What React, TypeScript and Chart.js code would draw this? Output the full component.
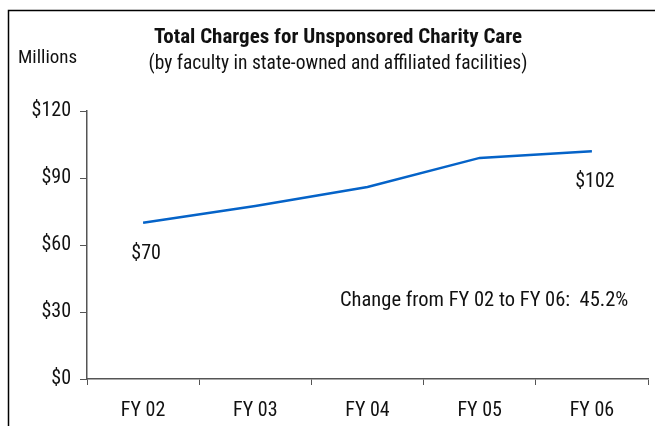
import React, { useEffect, useRef } from "react";
import { Chart, registerables } from "chart.js";

Chart.register(...registerables);

const categories = ["FY 02", "FY 03", "FY 04", "FY 05", "FY 06"];
const charges = [70, 77.5, 86, 99, 102];
const yTicks = [0, 30, 60, 90, 120];
const pointLabels = ["$70", "", "", "", "$102"];
const titleText = "Total Charges for Unsponsored Charity Care";
const subtitleText = "(by faculty in state-owned and affiliated facilities)";
const unitText = "Millions";
const changeText = "Change from FY 02 to FY 06:  45.2%";

const FONT = '"Roboto Condensed", "Liberation Sans Narrow", sans-serif';

export default function App() {
  const ref = useRef<HTMLCanvasElement | null>(null);
  useEffect(() => {
    document.body.style.margin = "0";
    const canvas = ref.current!;
    const textPlugin = {
      id: "texts",
      afterDraw(chart: any) {
        const ctx = chart.ctx;
        ctx.save();
        ctx.strokeStyle = "#000";
        ctx.lineWidth = 1.5;
        ctx.beginPath();
        ctx.moveTo(8.5, 426);
        ctx.lineTo(8.5, 10.5);
        ctx.lineTo(655, 10.5);
        ctx.stroke();
        ctx.fillStyle = "#111";
        ctx.textAlign = "center";
        ctx.textBaseline = "middle";
        ctx.font = `bold 21px ${FONT}`;
        ctx.fillText(titleText, 338, 38);
        ctx.font = `19.5px ${FONT}`;
        ctx.fillText(subtitleText, 338, 64);
        ctx.textAlign = "left";
        ctx.font = `19px ${FONT}`;
        ctx.fillText(unitText, 18, 58);
        ctx.font = `20.5px ${FONT}`;
        ctx.fillText(changeText, 340, 301);
        ctx.font = `20px ${FONT}`;
        ctx.textAlign = "center";
        const meta = chart.getDatasetMeta(0);
        meta.data.forEach((pt: any, i: number) => {
          const t = pointLabels[i];
          if (!t) return;
          ctx.fillText(t, pt.x + 3, pt.y + 31);
        });
        ctx.restore();
      },
    };
    const chart = new Chart(canvas, {
      type: "line",
      data: {
        labels: categories,
        datasets: [
          {
            data: charges,
            borderColor: "#0563C8",
            borderWidth: 2.5,
            pointRadius: 0,
            tension: 0,
            fill: false,
          },
        ],
      },
      options: {
        animation: false,
        responsive: false,
        events: [],
        layout: { padding: { left: 0, top: 111, right: 7, bottom: 0 } },
        plugins: { legend: { display: false }, title: { display: false }, tooltip: { enabled: false } },
        scales: {
          x: {
            type: "category",
            offset: true,
            grid: {
              offset: true,
              drawOnChartArea: false,
              drawTicks: true,
              tickLength: 6,
              color: "#555",
            },
            border: { color: "#555", width: 1.5 },
            ticks: { color: "#111", font: { family: FONT, size: 20 }, padding: 14, maxRotation: 0 },
            afterFit(scale: any) {
              scale.height = 47;
            },
          },
          y: {
            min: 0,
            max: 120,
            afterBuildTicks(scale: any) {
              scale.ticks = yTicks.map((v) => ({ value: v }));
            },
            grid: { drawOnChartArea: false, drawTicks: true, tickLength: 7, color: "#555" },
            border: { color: "#555", width: 1.5 },
            ticks: {
              color: "#111",
              font: { family: FONT, size: 20 },
              padding: 9,
              callback: (v: any) => "$" + v,
            },
            afterFit(scale: any) {
              scale.width = 87;
            },
          },
        },
      },
      plugins: [textPlugin],
    });
    return () => chart.destroy();
  }, []);
  return <canvas ref={ref} width={655} height={426} style={{ display: "block" }} />;
}
